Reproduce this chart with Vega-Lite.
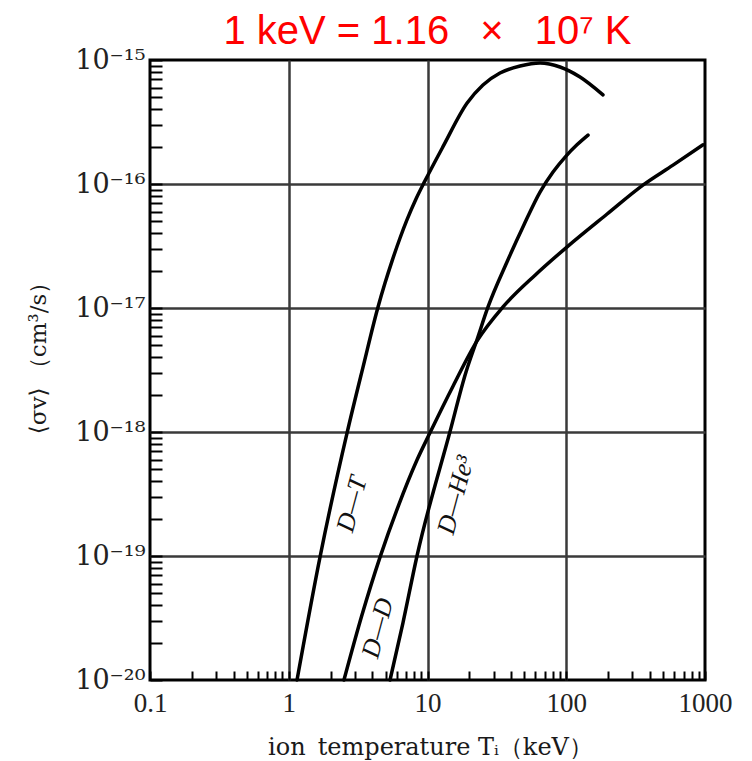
{
  "$schema": "https://vega.github.io/schema/vega-lite/v6.json",
  "width": 555,
  "height": 620,
  "autosize": "none",
  "padding": {"left": 150, "top": 60, "right": 47, "bottom": 81},
  "background": "white",
  "title": {"text": "1 keV = 1.16 \u2002×\u2002 10⁷ K", "color": "#ff0000", "font": "Liberation Sans", "fontSize": 40, "fontWeight": "normal", "anchor": "middle", "frame": "group", "offset": 16, "dy": 22},
  "config": {"view": {"stroke": "black", "strokeWidth": 3}},
  "datasets": {
    "curves": [
      {"reaction": "D-T", "T": 1.147, "sv": 1e-20},
      {"reaction": "D-T", "T": 1.68, "sv": 9.8e-20},
      {"reaction": "D-T", "T": 2.63, "sv": 9.8e-19},
      {"reaction": "D-T", "T": 3.43, "sv": 3.34e-18},
      {"reaction": "D-T", "T": 4.40, "sv": 1.02e-17},
      {"reaction": "D-T", "T": 4.94, "sv": 1.59e-17},
      {"reaction": "D-T", "T": 5.55, "sv": 2.39e-17},
      {"reaction": "D-T", "T": 6.34, "sv": 3.67e-17},
      {"reaction": "D-T", "T": 7.11, "sv": 5.13e-17},
      {"reaction": "D-T", "T": 8.26, "sv": 7.57e-17},
      {"reaction": "D-T", "T": 9.59, "sv": 1.06e-16},
      {"reaction": "D-T", "T": 12.9, "sv": 1.99e-16},
      {"reaction": "D-T", "T": 19.3, "sv": 4.50e-16},
      {"reaction": "D-T", "T": 25.1, "sv": 6.29e-16},
      {"reaction": "D-T", "T": 33.3, "sv": 7.85e-16},
      {"reaction": "D-T", "T": 46.5, "sv": 8.94e-16},
      {"reaction": "D-T", "T": 64.7, "sv": 9.46e-16},
      {"reaction": "D-T", "T": 90.2, "sv": 8.78e-16},
      {"reaction": "D-T", "T": 125.7, "sv": 7.29e-16},
      {"reaction": "D-T", "T": 184, "sv": 5.23e-16},
      {"reaction": "D-D", "T": 2.50, "sv": 1e-20},
      {"reaction": "D-D", "T": 3.37, "sv": 3.34e-20},
      {"reaction": "D-D", "T": 4.55, "sv": 9.8e-20},
      {"reaction": "D-D", "T": 6.12, "sv": 2.48e-19},
      {"reaction": "D-D", "T": 8.40, "sv": 5.94e-19},
      {"reaction": "D-D", "T": 10.4, "sv": 9.8e-19},
      {"reaction": "D-D", "T": 15.3, "sv": 2.35e-18},
      {"reaction": "D-D", "T": 22.7, "sv": 5.4e-18},
      {"reaction": "D-D", "T": 35.0, "sv": 1.02e-17},
      {"reaction": "D-D", "T": 59.6, "sv": 1.84e-17},
      {"reaction": "D-D", "T": 101, "sv": 3.10e-17},
      {"reaction": "D-D", "T": 197, "sv": 5.73e-17},
      {"reaction": "D-D", "T": 357, "sv": 9.8e-17},
      {"reaction": "D-D", "T": 588, "sv": 1.42e-16},
      {"reaction": "D-D", "T": 968, "sv": 2.07e-16},
      {"reaction": "D-He3", "T": 5.37, "sv": 1e-20},
      {"reaction": "D-He3", "T": 6.65, "sv": 2.88e-20},
      {"reaction": "D-He3", "T": 8.4, "sv": 1e-19},
      {"reaction": "D-He3", "T": 14.5, "sv": 1e-18},
      {"reaction": "D-He3", "T": 18.95, "sv": 3.05e-18},
      {"reaction": "D-He3", "T": 22.7, "sv": 5.52e-18},
      {"reaction": "D-He3", "T": 27.3, "sv": 1.02e-17},
      {"reaction": "D-He3", "T": 37.4, "sv": 2.35e-17},
      {"reaction": "D-He3", "T": 49.5, "sv": 4.67e-17},
      {"reaction": "D-He3", "T": 64.7, "sv": 8.61e-17},
      {"reaction": "D-He3", "T": 80.3, "sv": 1.25e-16},
      {"reaction": "D-He3", "T": 99.6, "sv": 1.68e-16},
      {"reaction": "D-He3", "T": 119.4, "sv": 2.07e-16},
      {"reaction": "D-He3", "T": 143.5, "sv": 2.48e-16}
    ],
    "labels": [
      {"label": "D—T", "T": 2.86, "sv": 2.62e-19},
      {"label": "D—D", "T": 4.39, "sv": 2.62e-20},
      {"label": "D—He³", "T": 16.0, "sv": 3.1e-19}
    ]
  },
  "layer": [
    {
      "data": {"name": "curves"},
      "mark": {"type": "line", "color": "black", "strokeWidth": 3.5, "interpolate": "monotone", "strokeCap": "round"},
      "encoding": {
        "x": {
          "field": "T", "type": "quantitative",
          "scale": {"type": "log", "domain": [0.1, 1000], "nice": false},
          "axis": {
            "values": [0.1,0.2,0.3,0.4,0.5,0.6,0.7,0.8,0.9,1,2,3,4,5,6,7,8,9,10,20,30,40,50,60,70,80,90,100,200,300,400,500,600,700,800,900,1000],
            "title": "ion\u2002temperature Tᵢ（keV）",
            "titleFont": "DejaVu Serif", "titleFontSize": 24, "titleFontWeight": "normal", "titleColor": "#1a1a1a",
            "titleBaseline": "middle", "titleY": 67, "titleX": 280,
            "labelExpr": "abs(log(datum.value)/LN10 - round(log(datum.value)/LN10)) > 0.001 ? '' : ['0.1','1','10','100','1000'][round(log(datum.value)/LN10) + 1]",
            "labelFont": "Liberation Serif", "labelFontSize": 27, "labelColor": "#222",
            "labelPadding": 19, "labelFlush": false, "labelOverlap": false, "labelBound": false,
            "domain": false,
            "tickSize": -9, "tickColor": "black", "tickWidth": 2,
            "grid": true, "gridColor": "#3a3a3a", "gridWidth": 2.5,
            "gridOpacity": {"condition": {"test": "abs(log(datum.value)/LN10 - round(log(datum.value)/LN10)) < 0.001 && datum.value > 0.11 && datum.value < 900", "value": 1}, "value": 0}
          }
        },
        "y": {
          "field": "sv", "type": "quantitative",
          "scale": {"type": "log", "domain": [1e-20, 1e-15], "nice": false},
          "axis": {
            "values": [1e-20,2e-20,3e-20,4e-20,5e-20,6e-20,7e-20,8e-20,9e-20,1e-19,2e-19,3e-19,4e-19,5e-19,6e-19,7e-19,8e-19,9e-19,1e-18,2e-18,3e-18,4e-18,5e-18,6e-18,7e-18,8e-18,9e-18,1e-17,2e-17,3e-17,4e-17,5e-17,6e-17,7e-17,8e-17,9e-17,1e-16,2e-16,3e-16,4e-16,5e-16,6e-16,7e-16,8e-16,9e-16,1e-15],
            "title": "⟨σv⟩ （cm³/s）",
            "titleFont": "DejaVu Serif", "titleFontSize": 23, "titleFontWeight": "normal", "titleColor": "#1a1a1a",
            "titleBaseline": "middle", "titleAlign": "center", "titleX": -112, "titleY": 292,
            "labelExpr": "abs(log(datum.value)/LN10 - round(log(datum.value)/LN10)) > 0.001 ? '' : ['10⁻²⁰','10⁻¹⁹','10⁻¹⁸','10⁻¹⁷','10⁻¹⁶','10⁻¹⁵'][round(log(datum.value)/LN10) + 20]",
            "labelFont": "DejaVu Serif", "labelFontSize": 27, "labelColor": "#222",
            "labelPadding": 17, "labelFlush": false, "labelOverlap": false, "labelBound": false,
            "domain": false,
            "tickSize": -12, "tickColor": "black", "tickWidth": 2,
            "grid": true, "gridColor": "#3a3a3a", "gridWidth": 2.5,
            "gridOpacity": {"condition": {"test": "abs(log(datum.value)/LN10 - round(log(datum.value)/LN10)) < 0.001 && datum.value > 1.1e-20 && datum.value < 9.5e-16", "value": 1}, "value": 0}
          }
        },
        "detail": {"field": "reaction"}
      }
    },
    {
      "data": {"name": "labels"},
      "mark": {"type": "text", "angle": -75, "font": "Liberation Serif", "fontStyle": "italic", "fontSize": 26, "color": "#111", "align": "center", "baseline": "middle"},
      "encoding": {
        "x": {"field": "T", "type": "quantitative"},
        "y": {"field": "sv", "type": "quantitative"},
        "text": {"field": "label"}
      }
    }
  ]
}
